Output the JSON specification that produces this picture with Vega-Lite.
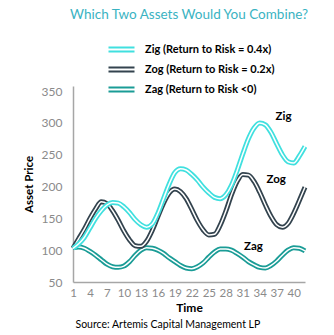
{
  "$schema": "https://vega.github.io/schema/vega-lite/v6.json",
  "width": 232,
  "height": 196,
  "autosize": {"type": "none"},
  "padding": {"left": 73, "top": 86, "right": 29, "bottom": 53},
  "background": "white",
  "config": {"font": "Lato", "view": {"stroke": null}},
  "title": {"text": "Which Two Assets Would You Combine?", "color": "#3ab3c2", "fontSize": 13.5, "fontWeight": "normal", "font": "Lato", "anchor": "middle", "offset": 21},
  "data": {"values": [
    {"t":1,"Zig":103,"Zog":103,"Zag":104},
    {"t":2,"Zig":110,"Zog":118,"Zag":105},
    {"t":3,"Zig":120,"Zog":133,"Zag":103},
    {"t":4,"Zig":135,"Zog":150,"Zag":98},
    {"t":5,"Zig":150,"Zog":165,"Zag":92},
    {"t":6,"Zig":162,"Zog":176,"Zag":85},
    {"t":7,"Zig":171,"Zog":173,"Zag":78},
    {"t":8,"Zig":175,"Zog":162,"Zag":74},
    {"t":9,"Zig":174,"Zog":147,"Zag":73},
    {"t":10,"Zig":168,"Zog":130,"Zag":75},
    {"t":11,"Zig":159,"Zog":116,"Zag":82},
    {"t":12,"Zig":148,"Zog":107,"Zag":92},
    {"t":13,"Zig":140,"Zog":106,"Zag":100},
    {"t":14,"Zig":136,"Zog":114,"Zag":104},
    {"t":15,"Zig":141,"Zog":131,"Zag":103},
    {"t":16,"Zig":158,"Zog":153,"Zag":100},
    {"t":17,"Zig":181,"Zog":174,"Zag":95},
    {"t":18,"Zig":204,"Zog":190,"Zag":88},
    {"t":19,"Zig":222,"Zog":196,"Zag":82},
    {"t":20,"Zig":228,"Zog":192,"Zag":76},
    {"t":21,"Zig":226,"Zog":181,"Zag":72},
    {"t":22,"Zig":219,"Zog":164,"Zag":71},
    {"t":23,"Zig":210,"Zog":146,"Zag":74},
    {"t":24,"Zig":199,"Zog":132,"Zag":80},
    {"t":25,"Zig":190,"Zog":124,"Zag":89},
    {"t":26,"Zig":183,"Zog":125,"Zag":97},
    {"t":27,"Zig":181,"Zog":139,"Zag":102},
    {"t":28,"Zig":187,"Zog":161,"Zag":102},
    {"t":29,"Zig":202,"Zog":187,"Zag":100},
    {"t":30,"Zig":225,"Zog":208,"Zag":95},
    {"t":31,"Zig":251,"Zog":219,"Zag":89},
    {"t":32,"Zig":275,"Zog":218,"Zag":82},
    {"t":33,"Zig":292,"Zog":208,"Zag":77},
    {"t":34,"Zig":300,"Zog":191,"Zag":73},
    {"t":35,"Zig":297,"Zog":171,"Zag":72},
    {"t":36,"Zig":285,"Zog":153,"Zag":76},
    {"t":37,"Zig":267,"Zog":140,"Zag":83},
    {"t":38,"Zig":250,"Zog":136,"Zag":92},
    {"t":39,"Zig":239,"Zog":142,"Zag":100},
    {"t":40,"Zig":237,"Zog":158,"Zag":104},
    {"t":41,"Zig":248,"Zog":178,"Zag":103},
    {"t":42,"Zig":263,"Zog":199,"Zag":99}
  ]},
  "transform": [{"fold": ["Zig", "Zog", "Zag"], "as": ["s", "v"]}],
  "resolve": {"axis": {"x": "independent"}},
  "encoding": {
    "y": {"field": "v", "type": "quantitative", "scale": {"domain": [50, 358], "nice": false, "zero": false},
      "axis": {"values": [50, 100, 150, 200, 250, 300, 350], "ticks": false, "grid": false, "domainColor": "#a6a6a6", "domainWidth": 1.5, "labelColor": "#8a8a8a", "labelFontSize": 12, "labelPadding": 11, "title": "Asset Price", "titleFontWeight": "bold", "titleFontSize": 11.5, "titleColor": "black", "titlePadding": 7}}
  },
  "layer": [
    {
      "transform": [{"filter": "datum.s == 'Zag'"}],
      "mark": {"type": "line", "strokeWidth": 5, "interpolate": "monotone"},
      "encoding": {
        "x": {"field": "t", "type": "quantitative", "scale": {"domain": [1, 42], "nice": false, "zero": false},
          "axis": {"orient": "bottom", "values": [1, 4, 7, 10, 13, 16, 19, 22, 25, 28, 31, 34, 37, 40], "ticks": false, "grid": false, "domainColor": "#a6a6a6", "domainWidth": 1.5, "labelColor": "#8a8a8a", "labelFontSize": 11.5, "labelPadding": 5, "labelFlush": false, "title": "Time", "titleFontSize": 12, "titleFontWeight": "bold", "titleColor": "black", "titlePadding": 4}},
        "y": {"field": "v", "type": "quantitative"},
        "color": {"field": "s", "type": "nominal", "scale": {"domain": ["Zig", "Zog", "Zag"], "range": ["#40e0df", "#33434e", "#1a9c96"]},
          "legend": {"orient": "none", "legendX": 41, "legendY": -44, "title": null, "symbolType": "M-2,-0.3H2M-2,0.3H2", "symbolSize": 169, "symbolStrokeWidth": 2, "symbolFillColor": "transparent", "labelFont": "Lato", "labelFontWeight": "bold", "labelFontSize": 11, "labelColor": "black", "labelOffset": 16, "rowPadding": 6,
            "labelExpr": "datum.label == 'Zig' ? 'Zig (Return to Risk = 0.4x)' : datum.label == 'Zog' ? 'Zog (Return to Risk = 0.2x)' : 'Zag (Return to Risk <0)'"}}
      }
    },
    {
      "transform": [{"filter": "datum.s == 'Zag'"}],
      "mark": {"type": "line", "strokeWidth": 1.5, "color": "white", "interpolate": "monotone"},
      "encoding": {"x": {"field": "t", "type": "quantitative", "axis": null}, "y": {"field": "v", "type": "quantitative"}}
    },
    {
      "transform": [{"filter": "datum.s == 'Zog'"}],
      "mark": {"type": "line", "strokeWidth": 5, "interpolate": "monotone"},
      "encoding": {"x": {"field": "t", "type": "quantitative", "axis": null}, "y": {"field": "v", "type": "quantitative"}, "color": {"field": "s", "type": "nominal"}}
    },
    {
      "transform": [{"filter": "datum.s == 'Zog'"}],
      "mark": {"type": "line", "strokeWidth": 1.5, "color": "white", "interpolate": "monotone"},
      "encoding": {"x": {"field": "t", "type": "quantitative", "axis": null}, "y": {"field": "v", "type": "quantitative"}}
    },
    {
      "transform": [{"filter": "datum.s == 'Zig'"}],
      "mark": {"type": "line", "strokeWidth": 5, "interpolate": "monotone"},
      "encoding": {"x": {"field": "t", "type": "quantitative", "axis": null}, "y": {"field": "v", "type": "quantitative"}, "color": {"field": "s", "type": "nominal"}}
    },
    {
      "transform": [{"filter": "datum.s == 'Zig'"}],
      "mark": {"type": "line", "strokeWidth": 1.5, "color": "white", "interpolate": "monotone"},
      "encoding": {"x": {"field": "t", "type": "quantitative", "axis": null}, "y": {"field": "v", "type": "quantitative"}}
    },
    {
      "data": {"values": [
        {"name": "Zig", "lx": 38.2, "ly": 309},
        {"name": "Zog", "lx": 36.9, "ly": 211},
        {"name": "Zag", "lx": 32.9, "ly": 105}
      ]},
      "mark": {"type": "text", "font": "Lato", "fontWeight": "bold", "fontSize": 11.5, "color": "black", "align": "center", "baseline": "middle"},
      "encoding": {
        "x": {"field": "lx", "type": "quantitative",
          "axis": {"orient": "bottom", "labels": false, "ticks": false, "domain": false, "grid": false, "title": "Source: Artemis Capital Management LP", "titleFont": "Lato", "titleFontWeight": "normal", "titleFontSize": 10.5, "titleColor": "black", "titleAnchor": "start", "titleAlign": "left", "titleX": 2, "titleY": 37, "titleBaseline": "top"}},
        "y": {"field": "ly", "type": "quantitative"},
        "text": {"field": "name"}
      }
    }
  ]
}
